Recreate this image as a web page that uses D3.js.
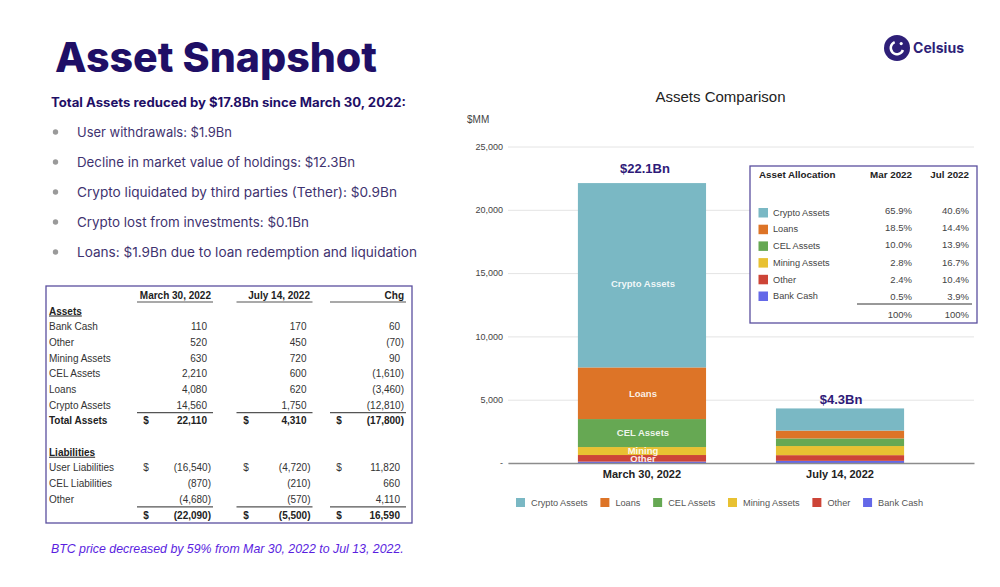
<!DOCTYPE html>
<html>
<head>
<meta charset="utf-8">
<script src="https://cdn.jsdelivr.net/npm/d3@7"></script>
<style>
  html, body { margin: 0; padding: 0; background: #fff; }
  svg { display: block; }
  text { font-family: "Liberation Sans", Arial, sans-serif; }
  .head { font-family: Inter, "Open Sans", sans-serif; }
</style>
</head>
<body>
<div id="chart"></div>
<script>
// chart data
const categories = ['March 30, 2022', 'July 14, 2022'];
const seriesNames = ['Bank Cash', 'Other', 'Mining Assets', 'CEL Assets', 'Loans', 'Crypto Assets'];
const bankCash = [110, 170];
const other = [520, 450];
const miningAssets = [630, 720];
const celAssets = [2210, 600];
const loans = [4080, 620];
const cryptoAssets = [14560, 1750];
const totalLabels = ['$22.1Bn', '$4.3Bn'];
const yTicks = [0, 5000, 10000, 15000, 20000, 25000];
const legendNames = ['Crypto Assets', 'Loans', 'CEL Assets', 'Mining Assets', 'Other', 'Bank Cash'];
const segmentLabels = ['Crypto Assets', 'Loans', 'CEL Assets', 'Mining', 'Other'];
const colors = {
  'Crypto Assets': '#7ab8c4', 'Loans': '#dd7427', 'CEL Assets': '#66a853',
  'Mining Assets': '#e8c132', 'Other': '#cd4437', 'Bank Cash': '#6468e8'
};

// left side text
const bullets = [
  'User withdrawals: $1.9Bn',
  'Decline in market value of holdings: $12.3Bn',
  'Crypto liquidated by third parties (Tether): $0.9Bn',
  'Crypto lost from investments: $0.1Bn',
  'Loans: $1.9Bn due to loan redemption and liquidation'
];
const bulletWidths = [155, 278, 320, 232, 340];

// balance table
const balanceHeader = ['March 30, 2022', 'July 14, 2022', 'Chg'];
const balanceRows = [
  { label: 'Assets', section: true },
  { label: 'Bank Cash', vals: ['110', '170', '60'] },
  { label: 'Other', vals: ['520', '450', '(70)'] },
  { label: 'Mining Assets', vals: ['630', '720', '90'] },
  { label: 'CEL Assets', vals: ['2,210', '600', '(1,610)'] },
  { label: 'Loans', vals: ['4,080', '620', '(3,460)'] },
  { label: 'Crypto Assets', vals: ['14,560', '1,750', '(12,810)'], rule: true },
  { label: 'Total Assets', vals: ['22,110', '4,310', '(17,800)'], bold: true, dollar: true },
  { label: '' },
  { label: 'Liabilities', section: true },
  { label: 'User Liabilities', vals: ['(16,540)', '(4,720)', '11,820'], dollar: true },
  { label: 'CEL Liabilities', vals: ['(870)', '(210)', '660'] },
  { label: 'Other', vals: ['(4,680)', '(570)', '4,110'], rule: true },
  { label: '', vals: ['(22,090)', '(5,500)', '16,590'], bold: true, dollar: true }
];

// allocation table
const allocHeader = ['Asset Allocation', 'Mar 2022', 'Jul 2022'];
const allocMar = ['65.9%', '18.5%', '10.0%', '2.8%', '2.4%', '0.5%'];
const allocJul = ['40.6%', '14.4%', '13.9%', '16.7%', '10.4%', '3.9%'];

const navy = '#1f0f66';
const purple = '#3f3370';
const border = '#5a4f9e';
const ink = '#333';

const svg = d3.select('#chart').append('svg').attr('width', 1000).attr('height', 587);

// heading
svg.append('text').attr('class', 'head').attr('x', 55).attr('y', 72)
  .attr('font-size', 41).attr('font-weight', 800).attr('fill', navy)
  .attr('textLength', 322).attr('lengthAdjust', 'spacingAndGlyphs')
  .text('Asset Snapshot');
svg.append('text').attr('class', 'head').attr('x', 51).attr('y', 106.5)
  .attr('font-size', 12.5).attr('font-weight', 700).attr('fill', navy)
  .attr('textLength', 355).attr('lengthAdjust', 'spacingAndGlyphs')
  .text('Total Assets reduced by $17.8Bn since March 30, 2022:');

const bulletY = d3.scalePoint().domain(d3.range(bullets.length)).range([132, 252]);
bullets.forEach((b, i) => {
  svg.append('circle').attr('cx', 55.5).attr('cy', bulletY(i)).attr('r', 2.7).attr('fill', '#9a9a9a');
  svg.append('text').attr('class', 'head').attr('x', 77).attr('y', bulletY(i)).attr('dy', '0.35em')
    .attr('font-size', 13).attr('fill', purple)
    .attr('textLength', bulletWidths[i]).attr('lengthAdjust', 'spacingAndGlyphs').text(b);
});

// logo
const logo = svg.append('g').attr('transform', 'translate(897,48)');
logo.append('circle').attr('r', 13).attr('fill', '#2e1f78');
logo.append('path').attr('fill', '#fff')
  .attr('d', d3.arc().innerRadius(5).outerRadius(7.5).startAngle(1.9).endAngle(5.9)());
logo.append('circle').attr('cx', 4.2).attr('cy', -4.4).attr('r', 1.6).attr('fill', '#fff');
svg.append('text').attr('class', 'head').attr('x', 913).attr('y', 48).attr('dy', '0.35em')
  .attr('font-size', 14).attr('font-weight', 700).attr('fill', '#2e1f78')
  .attr('textLength', 51).text('Celsius');

// balance table
svg.append('rect').attr('x', 46).attr('y', 286).attr('width', 366).attr('height', 237)
  .attr('fill', 'none').attr('stroke', border).attr('stroke-width', 1.3);

const colRight = [207, 306.5, 400];
const colParen = [211, 310.5, 404];
const colDollar = [146, 246, 339];
const ruleX = [[137, 213], [236.5, 312.5], [330, 406]];
const rowY = d3.scaleLinear().domain([0, 13]).range([311, 515]);

balanceHeader.forEach((h, i) => {
  svg.append('text').attr('x', [211, 310, 404][i]).attr('y', 295).attr('dy', '0.35em')
    .attr('text-anchor', 'end').attr('font-size', 10).attr('font-weight', 700)
    .attr('fill', '#222').text(h);
  svg.append('line').attr('x1', ruleX[i][0]).attr('x2', ruleX[i][1]).attr('y1', 302).attr('y2', 302)
    .attr('stroke', '#555').attr('stroke-width', 1.2);
});

balanceRows.forEach((row, r) => {
  const y = rowY(r);
  svg.append('text').attr('x', 49).attr('y', y).attr('dy', '0.35em')
    .attr('font-size', 10).attr('fill', row.section || row.bold ? '#222' : ink)
    .attr('font-weight', row.section || row.bold ? 700 : 400)
    .attr('text-decoration', row.section ? 'underline' : null)
    .text(row.label);
  if (!row.vals) return;
  row.vals.forEach((v, i) => {
    const paren = v.startsWith('(');
    svg.append('text').attr('x', paren ? colParen[i] : colRight[i]).attr('y', y).attr('dy', '0.35em')
      .attr('text-anchor', 'end').attr('font-size', 10).attr('fill', row.bold ? '#222' : ink)
      .attr('font-weight', row.bold ? 700 : 400).text(v);
    if (row.dollar) {
      svg.append('text').attr('x', colDollar[i]).attr('y', y).attr('dy', '0.35em')
        .attr('text-anchor', 'middle').attr('font-size', 10).attr('fill', row.bold ? '#222' : ink)
        .attr('font-weight', row.bold ? 700 : 400).text('$');
    }
    if (row.rule) {
      svg.append('line').attr('x1', ruleX[i][0]).attr('x2', ruleX[i][1])
        .attr('y1', y + 7.5).attr('y2', y + 7.5).attr('stroke', '#555').attr('stroke-width', 1.2);
    }
  });
});

svg.append('text').attr('x', 51).attr('y', 549).attr('dy', '0.35em')
  .attr('font-size', 12.35).attr('font-style', 'italic').attr('fill', '#5a1ee0')
  .text('BTC price decreased by 59% from Mar 30, 2022 to Jul 13, 2022.');

// stacked bars
const rows = categories.map((c, i) => ({
  category: c,
  'Bank Cash': bankCash[i], 'Other': other[i], 'Mining Assets': miningAssets[i],
  'CEL Assets': celAssets[i], 'Loans': loans[i], 'Crypto Assets': cryptoAssets[i]
}));
const stacked = d3.stack().keys(seriesNames)(rows);

const x = d3.scaleBand().domain(categories).range([508, 974]).padding(0.353);
const y = d3.scaleLinear().domain([0, 25000]).range([463, 146.5]);

svg.append('text').attr('x', 720.5).attr('y', 97).attr('dy', '0.35em').attr('text-anchor', 'middle')
  .attr('font-size', 15).attr('fill', '#222').text('Assets Comparison');
svg.append('text').attr('x', 467).attr('y', 119).attr('dy', '0.35em')
  .attr('font-size', 10).attr('fill', '#444').text('$MM');

const yAxis = svg.append('g').attr('transform', 'translate(508,0)')
  .call(d3.axisLeft(y).tickValues(yTicks).tickSize(0).tickPadding(5)
    .tickFormat(d => d === 0 ? '-' : d3.format(',')(d)));
yAxis.select('.domain').remove();
yAxis.selectAll('text').attr('font-size', 9).attr('font-family', null).attr('fill', '#444');
yAxis.selectAll('.tick line').attr('x2', 466).attr('stroke', '#e4e4e4').attr('stroke-width', 1);

svg.selectAll('.series').data(stacked).join('g')
  .attr('class', 'series')
  .attr('fill', d => colors[d.key])
  .selectAll('rect').data(d => d).join('rect')
    .attr('x', d => x(d.data.category))
    .attr('y', d => y(d[1]))
    .attr('width', x.bandwidth())
    .attr('height', d => y(d[0]) - y(d[1]));

const xAxis = svg.append('g').attr('transform', 'translate(0,463)')
  .call(d3.axisBottom(x).tickSize(0).tickPadding(7));
xAxis.select('.domain').attr('stroke', '#8c8c8c').attr('stroke-width', 1.5);
xAxis.selectAll('text').attr('font-size', 11).attr('font-weight', 700)
  .attr('font-family', null).attr('fill', '#222');

// totals, the labels are not quite centred over the bars in the original
const totalGap = [15, 9];
const totalShift = [3, 1];
categories.forEach((c, i) => {
  const top = d3.sum(seriesNames, k => rows[i][k]);
  svg.append('text').attr('x', x(c) + x.bandwidth() / 2 + totalShift[i]).attr('y', y(top) - totalGap[i]).attr('dy', '0.35em')
    .attr('text-anchor', 'middle').attr('font-size', 13).attr('font-weight', 700)
    .attr('fill', '#2e1a78').text(totalLabels[i]);
});

// labels inside the March bar
const labelKeys = ['Crypto Assets', 'Loans', 'CEL Assets', 'Mining Assets', 'Other'];
labelKeys.forEach((k, i) => {
  const seg = stacked.find(s => s.key === k)[0];
  svg.append('text').attr('x', x(categories[0]) + x.bandwidth() / 2 + 1)
    .attr('y', y((seg[0] + seg[1]) / 2) + (k === 'Crypto Assets' ? 8 : 0)).attr('dy', '0.35em')
    .attr('text-anchor', 'middle').attr('font-size', 9.5).attr('font-weight', 700)
    .attr('fill', '#fff').attr('fill-opacity', 0.9).text(segmentLabels[i]);
});

// legend
let legendX = 516;
legendNames.forEach(name => {
  svg.append('rect').attr('x', legendX).attr('y', 498).attr('width', 9).attr('height', 9).attr('fill', colors[name]);
  const t = svg.append('text').attr('x', legendX + 15).attr('y', 502.7).attr('dy', '0.35em')
    .attr('font-size', 9.2).attr('fill', '#555').text(name);
  legendX += 15 + t.node().getComputedTextLength() + 12.7;
});

// allocation table
svg.append('rect').attr('x', 750).attr('y', 166).attr('width', 227).attr('height', 157)
  .attr('fill', '#fff').attr('stroke', border).attr('stroke-width', 1.3);
allocHeader.forEach((h, i) => {
  svg.append('text').attr('x', [759, 912, 969][i]).attr('y', 175).attr('dy', '0.35em')
    .attr('text-anchor', i ? 'end' : 'start').attr('font-size', 9.8).attr('font-weight', 700)
    .attr('fill', '#222').text(h);
});
const allocY = d3.scaleLinear().domain([0, 5]).range([212.5, 296]);
const allocValY = d3.scaleLinear().domain([0, 5]).range([210.5, 297]);
legendNames.forEach((name, i) => {
  svg.append('rect').attr('x', 758.5).attr('y', allocY(i) - 4.5).attr('width', 9.5).attr('height', 9.5)
    .attr('fill', colors[name]);
  svg.append('text').attr('x', 773).attr('y', allocY(i)).attr('dy', '0.35em')
    .attr('font-size', 9.2).attr('fill', '#444').text(name);
  svg.append('text').attr('x', 912).attr('y', allocValY(i)).attr('dy', '0.35em')
    .attr('text-anchor', 'end').attr('font-size', 9.5).attr('fill', '#444').text(allocMar[i]);
  svg.append('text').attr('x', 969).attr('y', allocValY(i)).attr('dy', '0.35em')
    .attr('text-anchor', 'end').attr('font-size', 9.5).attr('fill', '#444').text(allocJul[i]);
});
svg.append('line').attr('x1', 857).attr('x2', 972).attr('y1', 304).attr('y2', 304)
  .attr('stroke', '#333').attr('stroke-width', 1);
[912, 969].forEach(px => {
  svg.append('text').attr('x', px).attr('y', 315).attr('dy', '0.35em').attr('text-anchor', 'end')
    .attr('font-size', 9.5).attr('fill', '#444').text('100%');
});
</script>
</body>
</html>
